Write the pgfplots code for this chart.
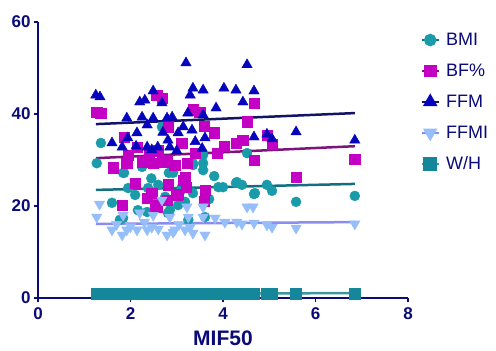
\documentclass[border=0pt]{standalone}
\usepackage{pgfplots}
\pgfplotsset{compat=1.18}
\usepackage{fontspec}
\setmainfont{Liberation Sans}
\definecolor{navy}{RGB}{10,10,120}
\definecolor{bmic}{RGB}{25,155,170}
\definecolor{bfc}{RGB}{196,0,196}
\definecolor{ffmc}{RGB}{5,5,190}
\definecolor{ffmic}{RGB}{150,190,250}
\definecolor{whc}{RGB}{20,135,155}
\definecolor{bmil}{RGB}{20,110,130}
\definecolor{bfl}{RGB}{125,20,125}
\definecolor{ffml}{RGB}{20,20,100}
\definecolor{ffmil}{RGB}{140,140,240}
\definecolor{whl}{RGB}{60,150,160}
\begin{document}
\begin{tikzpicture}
\path[use as bounding box] (-38pt,-53pt) rectangle (458pt,298pt);
\begin{axis}[
  at={(0pt,0pt)}, anchor=south west,
  scale only axis, width=370pt, height=276pt,
  xmin=0, xmax=8, ymin=0, ymax=60,
  axis lines=left, axis line style={-, navy, line width=2.2pt},
  xtick={0,2,4,6,8}, ytick={0,20,40,60},
  tick style={navy, line width=1.5pt},
  major tick length=4pt,
  tick align=outside,
  tick label style={font=\fontsize{17}{17}\selectfont\bfseries, text=navy},
  xticklabel style={yshift=-2pt},
  /pgf/number format/assume math mode=true,
  xlabel={MIF50}, xlabel style={font=\fontsize{21}{21}\selectfont\bfseries, text=navy, yshift=-4pt},
  clip=false,
  legend style={at={(1.025,0.975)}, anchor=north west, draw=none, fill=none,
    font=\fontsize{18}{20}\selectfont, text=navy, row sep=13pt,
    nodes={inner xsep=6pt}},
  legend cell align=left,
]
% BMI
\addplot[only marks, mark=*, mark size=5pt, color=bmic, forget plot] coordinates {
(1.36,33.7) (1.27,29.3) (1.86,27.2) (2.25,28.5) (2.68,37.2) (2.83,27.2) (3.35,28.9) (3.57,27.8)
(3.81,26.5) (4.52,31.5) (3.57,31.1) (4.0,24.1) (4.28,25.0) (4.41,24.6) (4.67,22.6) (4.95,24.6)
(5.06,23.3) (5.58,20.9) (6.85,22.2) (2.6,24.6) (3.11,24.1) (3.35,22.8) (2.85,19.1) (3.03,20.2)
(3.61,17.6) (1.95,23.9) (2.1,22.4) (2.38,23.9) (1.6,20.7) (1.84,17.4) (2.16,19.1) (2.36,18.7)
(3.07,23.0) (2.75,22.0) (2.53,20.9) (3.18,20.9) (1.77,17.0) (2.81,18.5) (3.25,17.0) (3.9,24.1)
(3.57,29.3) (4.3,25.2) (4.69,22.8) (3.35,29.3) (2.92,27.2) (1.84,27.2) (2.45,26.0) (3.7,21.5)
};
% BF%
\addplot[only marks, mark=square*, mark size=5.2pt, color=bfc, forget plot] coordinates {
(1.27,40.4) (1.36,40.2) (1.62,28.3) (1.86,35.0) (1.92,29.3) (2.14,32.8) (2.25,29.6) (2.49,29.3)
(2.57,44.1) (2.68,43.5) (2.79,30.0) (2.81,37.2) (2.96,28.9) (3.11,33.7) (3.22,29.3) (3.18,26.3)
(3.35,40.9) (3.5,40.4) (3.59,37.4) (3.81,35.9) (3.87,31.5) (4.02,33.0) (4.28,33.7) (4.43,34.3)
(4.52,38.3) (4.67,42.4) (4.67,30.0) (4.95,35.4) (5.06,33.5) (5.58,26.3) (6.85,30.2) (3.2,24.1)
(3.61,23.5) (3.59,21.1) (2.6,32.0) (2.53,20.2) (2.81,24.6) (3.03,22.6) (1.82,20.2) (2.1,25.0)
(2.36,21.7) (2.57,19.8) (2.46,22.8) (2.79,21.3) (3.0,22.4) (3.14,25.6) (2.7,29.5) (2.4,31.0)
(1.95,31.0) (3.4,31.5)
};
% FFM
\addplot[only marks, mark=triangle*, mark size=6pt, color=ffmc, forget plot] coordinates {
(1.25,44.1) (1.34,43.7) (1.6,33.7) (1.92,39.1) (1.82,32.8) (1.94,34.8) (2.12,33.0) (2.2,42.6)
(2.31,43.0) (2.49,45.0) (2.68,42.4) (2.25,39.3) (2.36,37.6) (2.14,35.9) (2.36,32.8) (2.46,32.2)
(2.49,39.1) (2.59,32.8) (2.79,39.1) (2.9,39.3) (2.81,34.3) (2.85,32.8) (3.03,35.9) (3.14,37.2)
(3.2,51.1) (3.24,40.2) (3.29,44.1) (3.35,45.6) (3.33,36.5) (3.57,45.2) (3.57,39.8) (3.61,34.8)
(3.85,41.3) (4.02,45.6) (4.28,45.2) (4.43,42.6) (4.52,50.7) (4.67,45.0) (4.67,35.0) (4.95,35.6)
(5.06,34.6) (5.58,36.1) (6.85,34.3) (3.4,34.0) (3.0,32.0) (2.7,36.0) (3.55,32.5)
};
% FFMI
\addplot[only marks, mark=triangle*, mark options={rotate=180}, mark size=6pt, color=ffmic, forget plot] coordinates {
(1.33,20.4) (1.27,17.6) (1.6,14.8) (1.82,13.7) (1.92,14.8) (1.84,18.0) (2.14,14.8) (2.2,18.5)
(2.36,14.8) (2.46,15.4) (2.49,18.0) (2.79,13.7) (2.85,17.6) (2.96,14.8) (3.18,14.8) (3.22,19.8)
(3.25,17.6) (3.35,14.1) (3.57,19.8) (3.57,17.6) (3.61,13.7) (3.83,17.4) (4.04,16.5) (4.3,16.5)
(4.52,19.8) (4.65,19.8) (4.41,16.1) (4.67,16.3) (4.95,15.9) (5.06,15.4) (5.58,15.2) (6.85,16.1)
(2.68,21.3) (2.92,14.3) (3.29,15.4) (2.0,15.5) (2.6,15.0) (3.05,16.0) (2.3,16.5) (1.7,16.0)
};
% W/H
\addplot[only marks, mark=square*, mark size=5.5pt, color=whc, forget plot] coordinates {
(1.28,0.90) (1.38,0.88) (1.6,0.92) (1.75,0.86) (1.85,0.90) (1.95,0.94) (2.05,0.89) (2.15,0.87)
(2.25,0.91) (2.35,0.88) (2.45,0.93) (2.55,0.90) (2.65,0.86) (2.75,0.92) (2.85,0.89) (2.95,0.91)
(3.05,0.88) (3.15,0.93) (3.25,0.90) (3.35,0.87) (3.45,0.92) (3.55,0.89) (3.65,0.91) (3.8,0.88)
(3.95,0.93) (4.05,0.90) (4.2,0.87) (4.3,0.92) (4.45,0.89) (4.55,0.91) (4.67,0.90) (4.95,0.92)
(5.06,0.88) (5.58,0.91) (6.85,0.95)
};
% trend lines
\addplot[bmil, line width=2.5pt, forget plot] coordinates {(1.25,23.5) (6.85,24.8)};
\addplot[bfl, line width=2.5pt, forget plot] coordinates {(1.25,30.4) (6.85,33.0)};
\addplot[ffml, line width=2.5pt, forget plot] coordinates {(1.25,37.8) (6.85,40.2)};
\addplot[ffmil, line width=2.5pt, forget plot] coordinates {(1.25,16.1) (6.85,16.5)};
\addplot[whl, line width=2.5pt, forget plot] coordinates {(1.25,0.95) (6.85,1.05)};
% legend
\addlegendimage{bmil, line width=2.5pt, mark=*, mark size=5pt, mark options={bmic}}
\addlegendentry{BMI}
\addlegendimage{bfl, line width=2.5pt, mark=square*, mark size=5.2pt, mark options={bfc}}
\addlegendentry{BF\%}
\addlegendimage{ffml, line width=2.5pt, mark=triangle*, mark size=6pt, mark options={ffmc}}
\addlegendentry{FFM}
\addlegendimage{ffmil, line width=2.5pt, mark=triangle*, mark size=6pt, mark options={ffmic, rotate=180}}
\addlegendentry{FFMI}
\addlegendimage{whl, line width=2.5pt, mark=square*, mark size=5.5pt, mark options={whc}}
\addlegendentry{W/H}
\end{axis}
\end{tikzpicture}
\end{document}
